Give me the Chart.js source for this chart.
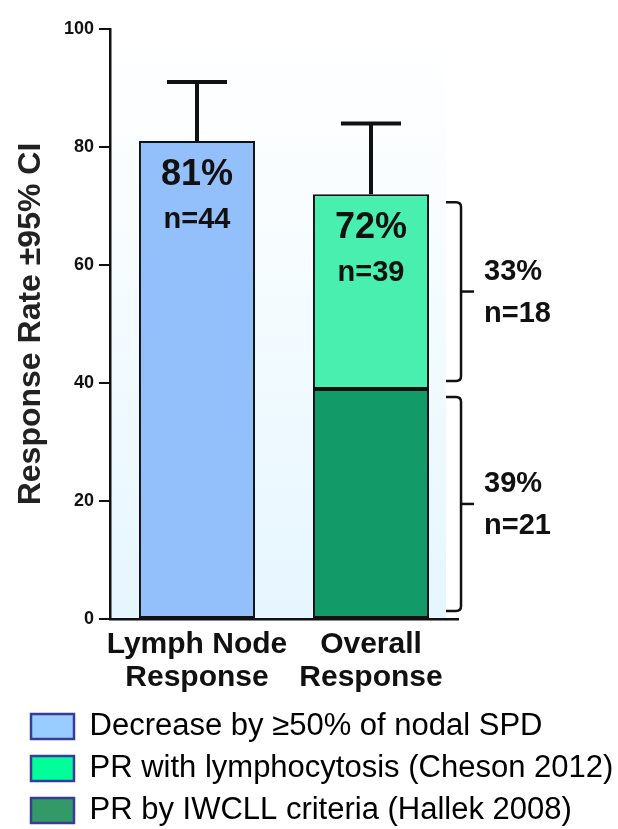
<!DOCTYPE html>
<html><head><meta charset="utf-8">
<script src="https://cdn.jsdelivr.net/npm/chart.js@4.4.1/dist/chart.umd.min.js"></script>
<style>html,body{margin:0;padding:0;background:#fff}#wrap{width:618px;height:829px;position:relative}</style>
</head><body><div id="wrap"><canvas id="c"></canvas></div>
<script>
// ---- data ----
const categories = [['Lymph Node','Response'],['Overall','Response']];
const nodalResponse = [81, null];
const prIwcll = [null, 39];
const prLymphocytosis = [null, 33];
const ciUpper = [91, 84];
const barPercentLabels = ['81%','72%'];
const barNLabels = ['n=44','n=39'];
const upperSegmentLabels = ['33%','n=18'];
const lowerSegmentLabels = ['39%','n=21'];
const yTicks = [0,20,40,60,80,100];
const legendLabels = ['Decrease by \u226550% of nodal SPD','PR with lymphocytosis (Cheson 2012)','PR by IWCLL criteria (Hallek 2008)'];

// ---- style ----
const FONT = 'Arial, "Liberation Sans", Helvetica, sans-serif';
const INK = '#111';
const legendFill = ['#99ccff','#00ff99','#339966'];
const legendDataset = [0,2,1];

const bgPlugin = {
  id:'bg',
  beforeDraw(chart){
    const {ctx, chartArea:a} = chart;
    const g = ctx.createLinearGradient(0,a.top,0,a.bottom);
    g.addColorStop(0,'#ffffff'); g.addColorStop(0.3,'#f9fdff');
    g.addColorStop(0.6,'#f0faff'); g.addColorStop(1,'#e6f6ff');
    ctx.save(); ctx.fillStyle = g;
    ctx.fillRect(a.left, a.top, a.right - a.left - 12, a.bottom - a.top);
    ctx.restore();
  }
};

const overlayPlugin = {
  id:'overlay',
  afterDatasetsDraw(chart){
    const {ctx} = chart; const y = chart.scales.y;
    ctx.save();
    categories.forEach((c,i)=>{
      let topEl = null, total = 0;
      chart.data.datasets.forEach((ds,di)=>{
        const v = ds.data[i];
        if (v != null){ total += v; topEl = chart.getDatasetMeta(di).data[i]; }
      });
      const x = topEl.x;
      const yTop = y.getPixelForValue(total);
      const yCi = y.getPixelForValue(ciUpper[i]);
      ctx.strokeStyle = INK; ctx.lineWidth = 4; ctx.lineCap = 'butt';
      ctx.beginPath(); ctx.moveTo(x, yTop); ctx.lineTo(x, yCi); ctx.stroke();
      ctx.beginPath(); ctx.moveTo(x-30, yCi); ctx.lineTo(x+30, yCi); ctx.stroke();
      ctx.fillStyle = INK; ctx.textAlign = 'center'; ctx.textBaseline = 'middle';
      ctx.font = 'bold 36px ' + FONT; ctx.fillText(barPercentLabels[i], x, yTop + 34);
      ctx.font = 'bold 29px ' + FONT; ctx.fillText(barNLabels[i], x, yTop + 79);
    });
    // brackets for the stacked bar
    const el = chart.getDatasetMeta(2).data[1];
    const right = el.x + el.width/2;
    const lo = prIwcll[1], hi = prIwcll[1] + prLymphocytosis[1];
    const segs = [[lo, hi, upperSegmentLabels],[0, lo, lowerSegmentLabels]];
    segs.forEach(([a,b,lab])=>{
      const yT = y.getPixelForValue(b) + 8, yB = y.getPixelForValue(a) - 8, yM = (yT + yB)/2;
      const x0 = right + 17, xv = right + 32, xn = right + 45, r = 5;
      ctx.strokeStyle = INK; ctx.lineWidth = 2.5;
      ctx.beginPath();
      ctx.moveTo(x0, yT); ctx.lineTo(xv - r, yT); ctx.quadraticCurveTo(xv, yT, xv, yT + r);
      ctx.lineTo(xv, yB - r); ctx.quadraticCurveTo(xv, yB, xv - r, yB); ctx.lineTo(x0, yB);
      ctx.stroke();
      ctx.beginPath(); ctx.moveTo(xv, yM); ctx.lineTo(xn, yM); ctx.stroke();
      ctx.fillStyle = INK; ctx.textAlign = 'left'; ctx.textBaseline = 'middle';
      ctx.font = 'bold 29px ' + FONT;
      ctx.fillText(lab[0], right + 55, yM - 20);
      ctx.fillText(lab[1], right + 55, yM + 22);
    });
    ctx.restore();
  }
};

Chart.defaults.font.family = FONT;
new Chart(document.getElementById('c'), {
  type:'bar',
  data:{
    labels: categories,
    datasets:[
      {label: legendLabels[0], data: nodalResponse, backgroundColor:'#93c0fa', borderColor:INK, borderWidth:2, borderSkipped:false},
      {label: legendLabels[2], data: prIwcll, backgroundColor:'#129b68', borderColor:INK, borderWidth:2, borderSkipped:false},
      {label: legendLabels[1], data: prLymphocytosis, backgroundColor:'#48efae', borderColor:INK, borderWidth:2, borderSkipped:false}
    ]
  },
  options:{
    responsive:true, maintainAspectRatio:false, animation:false,
    layout:{padding:{left:20, right:0, top:29, bottom:-7}},
    datasets:{bar:{barPercentage:0.667, categoryPercentage:1}},
    scales:{
      x:{
        stacked:true,
        grid:{display:false},
        border:{display:true, color:INK, width:2.5},
        ticks:{color:INK, font:{size:30, weight:'bold', lineHeight:1.1}, padding:1, maxRotation:0, autoSkip:false},
        afterFit(s){ s.height = 81; }
      },
      y:{
        stacked:true, min:0, max:100,
        afterBuildTicks(s){ s.ticks = yTicks.map(v=>({value:v})); },
        ticks:{color:INK, font:{size:18, weight:'bold'}, padding:5},
        grid:{drawOnChartArea:false, drawTicks:true, tickLength:11, color:INK, lineWidth:2},
        border:{display:true, color:INK, width:2.5},
        title:{display:true, text:'Response Rate \u00b195% CI', color:'#222', font:{size:32, weight:'bold', lineHeight:1.1}, padding:{top:-6, bottom:0}},
        afterFit(s){ s.width = 90; }
      },
      yRight:{
        axis:'y', position:'right', min:0, max:100,
        ticks:{display:false}, grid:{display:false}, border:{display:false},
        afterFit(s){ s.width = 160; }
      }
    },
    plugins:{
      legend:{
        position:'bottom', align:'start',
        labels:{
          boxWidth:43, boxHeight:25, padding:11, color:'#000', font:{size:31},
          generateLabels(){
            return legendLabels.map((t,i)=>({text:t, fillStyle:legendFill[i], strokeStyle:'#3a3a98', lineWidth:2.5, hidden:false, datasetIndex:legendDataset[i]}));
          }
        }
      },
      tooltip:{enabled:false}
    }
  },
  plugins:[bgPlugin, overlayPlugin]
});
</script></body></html>
